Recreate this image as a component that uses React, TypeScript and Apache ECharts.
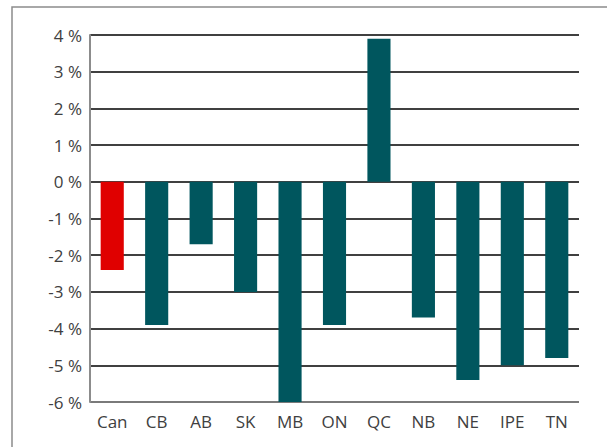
import React, { useEffect, useRef } from "react";
import * as echarts from "echarts";

const categories = ["Can", "CB", "AB", "SK", "MB", "ON", "QC", "NB", "NE", "IPE", "TN"];
const values = [-2.4, -3.9, -1.7, -3.0, -6.0, -3.9, 3.9, -3.7, -5.4, -5.0, -4.8];
const highlight = ["Can"];

export default function App() {
  const ref = useRef<HTMLDivElement>(null);
  useEffect(() => {
    if (!ref.current) return;
    const chart = echarts.init(ref.current, null, { renderer: "svg" });
    chart.setOption({
      animation: false,
      backgroundColor: "#ffffff",
      textStyle: { fontFamily: "Open Sans" },
      graphic: [
        {
          type: "rect",
          shape: { x: 12, y: 7, width: 800, height: 700 },
          style: { fill: "none", stroke: "#8c8c8c", lineWidth: 1.5 },
          silent: true,
        },
      ],
      grid: { left: 90, right: 28, top: 35, bottom: 45 },
      xAxis: {
        type: "category",
        data: categories,
        axisLine: { show: false },
        axisTick: { show: false },
        axisLabel: { color: "#404040", fontSize: 17, margin: 11, fontFamily: "Open Sans" },
      },
      yAxis: {
        type: "value",
        min: -6,
        max: 4,
        interval: 1,
        axisLine: { show: true, lineStyle: { color: "#8c8c8c", width: 2 } },
        axisTick: { show: false },
        axisLabel: {
          color: "#404040",
          fontSize: 17,
          margin: 8,
          fontFamily: "Open Sans",
          formatter: (v: number) => `${v} %`,
        },
        splitLine: {
          show: true,
          lineStyle: {
            color: ["#7a7a7a", "#404040", "#404040", "#404040", "#404040", "#404040", "#404040", "#404040", "#404040", "#404040", "#404040"],
            width: 2,
          },
        },
      },
      series: [
        {
          type: "bar",
          barWidth: "52%",
          data: values.map((v, i) => ({
            value: v,
            itemStyle: { color: highlight.includes(categories[i]) ? "#e00000" : "#00565e" },
          })),
        },
      ],
    });
    return () => chart.dispose();
  }, []);
  return (
    <div
      ref={ref}
      style={{ position: "fixed", left: 0, top: 0, width: 607, height: 447 }}
    />
  );
}
